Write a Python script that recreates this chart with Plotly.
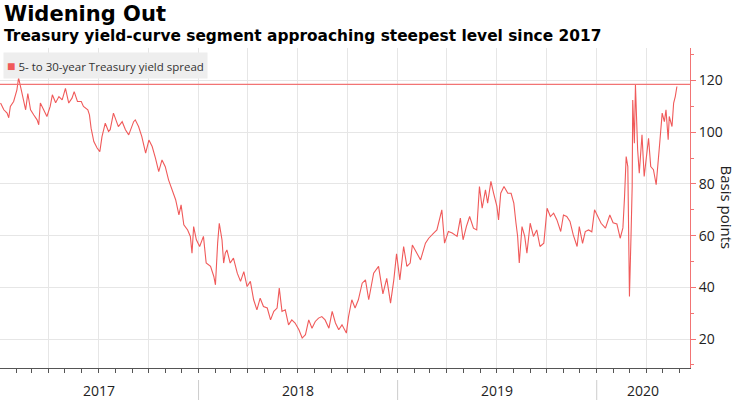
import plotly.graph_objects as go

# 5s30s Treasury spread, basis points
dates = [
    "2017-01-03", "2017-01-09", "2017-01-15", "2017-01-18", "2017-01-21", "2017-01-27",
    "2017-02-02", "2017-02-05", "2017-02-10", "2017-02-15", "2017-02-18", "2017-02-22",
    "2017-02-27", "2017-03-05", "2017-03-11", "2017-03-14", "2017-03-17", "2017-03-23",
    "2017-03-29", "2017-04-04", "2017-04-08", "2017-04-14", "2017-04-20", "2017-04-26",
    "2017-05-02", "2017-05-08", "2017-05-14", "2017-05-18", "2017-05-24", "2017-05-31",
    "2017-06-04", "2017-06-12", "2017-06-15", "2017-06-18", "2017-06-23", "2017-06-29",
    "2017-07-04", "2017-07-08", "2017-07-14", "2017-07-20", "2017-07-23", "2017-07-29",
    "2017-08-07", "2017-08-14", "2017-08-20", "2017-08-26", "2017-09-04", "2017-09-07",
    "2017-09-13", "2017-09-19", "2017-09-26", "2017-10-02", "2017-10-08", "2017-10-14",
    "2017-10-20", "2017-10-26", "2017-11-01", "2017-11-07", "2017-11-13", "2017-11-20",
    "2017-11-26", "2017-11-30", "2017-12-05", "2017-12-12", "2017-12-17", "2017-12-20",
    "2017-12-23", "2017-12-28",
    "2018-01-03", "2018-01-10", "2018-01-15", "2018-01-23", "2018-01-29", "2018-02-01",
    "2018-02-05", "2018-02-08", "2018-02-13", "2018-02-16", "2018-02-19", "2018-02-22",
    "2018-02-28", "2018-03-06", "2018-03-13", "2018-03-19", "2018-03-25", "2018-03-31",
    "2018-04-06", "2018-04-12", "2018-04-18", "2018-04-24", "2018-04-30", "2018-05-07",
    "2018-05-13", "2018-05-19", "2018-05-25", "2018-05-29", "2018-06-03", "2018-06-09",
    "2018-06-15", "2018-06-21", "2018-06-27", "2018-07-04", "2018-07-10", "2018-07-16",
    "2018-07-22", "2018-07-28", "2018-08-03", "2018-08-09", "2018-08-15", "2018-08-21",
    "2018-08-28", "2018-09-03", "2018-09-09", "2018-09-15", "2018-09-21", "2018-09-29",
    "2018-10-03", "2018-10-09", "2018-10-15", "2018-10-21", "2018-10-28", "2018-11-03",
    "2018-11-09", "2018-11-18", "2018-11-27", "2018-12-05", "2018-12-12", "2018-12-19",
    "2018-12-25", "2018-12-30",
    "2019-01-05", "2019-01-12", "2019-01-18", "2019-01-24", "2019-01-28", "2019-02-05",
    "2019-02-12", "2019-02-21", "2019-02-27", "2019-03-08", "2019-03-14", "2019-03-23",
    "2019-03-28", "2019-04-04", "2019-04-11", "2019-04-20", "2019-04-26", "2019-05-01",
    "2019-05-07", "2019-05-13", "2019-05-20", "2019-05-26", "2019-05-31", "2019-06-05",
    "2019-06-11", "2019-06-15", "2019-06-21", "2019-06-26", "2019-07-02", "2019-07-05",
    "2019-07-09", "2019-07-15", "2019-07-22", "2019-07-28", "2019-08-02", "2019-08-06",
    "2019-08-09", "2019-08-12", "2019-08-17", "2019-08-22", "2019-08-26", "2019-09-01",
    "2019-09-07", "2019-09-13", "2019-09-19", "2019-09-26", "2019-10-02", "2019-10-08",
    "2019-10-14", "2019-10-20", "2019-10-27", "2019-11-01", "2019-11-07", "2019-11-13",
    "2019-11-19", "2019-11-26", "2019-11-30", "2019-12-06", "2019-12-11", "2019-12-17",
    "2019-12-23", "2019-12-28",
    "2020-01-03", "2020-01-09", "2020-01-17", "2020-01-25", "2020-01-31", "2020-02-07",
    "2020-02-13", "2020-02-18", "2020-02-21", "2020-02-24", "2020-02-27", "2020-03-01",
    "2020-03-04", "2020-03-06", "2020-03-07", "2020-03-10", "2020-03-12", "2020-03-16",
    "2020-03-19", "2020-03-24", "2020-03-28", "2020-04-01", "2020-04-05", "2020-04-09",
    "2020-04-14", "2020-04-19", "2020-04-23", "2020-04-26", "2020-04-30", "2020-05-04",
    "2020-05-07", "2020-05-11", "2020-05-13", "2020-05-18", "2020-05-21", "2020-05-24",
    "2020-05-27",
]
spread = [
    111.3, 108.7, 107.4, 105.6, 110.0, 111.9,
    116.4, 121.0, 116.4, 111.4, 108.7, 115.0,
    108.7, 106.7, 104.8, 102.9, 111.3, 108.7,
    106.1, 110.0, 114.5, 111.4, 113.8, 112.5,
    117.0, 111.3, 113.2, 115.7, 111.9, 111.9,
    110.0, 108.7, 106.7, 101.6, 96.4, 93.9,
    92.5, 98.3, 103.5, 100.3, 101.0, 107.4,
    102.2, 104.1, 101.0, 99.0, 104.1, 104.8,
    102.2, 98.3, 91.9, 97.0, 94.5, 90.0,
    84.8, 89.3, 86.7, 81.6, 78.4, 73.9,
    68.0, 71.9, 64.2, 62.2, 59.7, 53.2,
    63.5, 58.4,
    55.8, 59.7, 49.4, 48.1, 44.2, 41.0,
    57.1, 64.8, 58.4, 49.4, 53.2, 54.5,
    49.4, 51.3, 45.5, 42.3, 46.1, 40.3,
    42.3, 35.2, 31.3, 35.8, 32.6, 32.0,
    27.4, 30.7, 32.0, 39.7, 30.7, 31.3,
    25.5, 27.4, 26.2, 23.6, 20.4, 21.7,
    27.4, 24.2, 26.8, 28.1, 28.7, 27.4,
    24.2, 30.7, 26.2, 23.6, 25.5, 22.3,
    28.7, 35.2, 32.0, 35.2, 41.6, 42.9,
    35.2, 45.5, 48.1, 37.5, 43.5, 33.9,
    42.9, 53.0,
    42.9, 55.8, 48.1, 49.4, 56.4, 53.2,
    50.6, 57.1, 59.0, 61.0, 62.2, 70.0,
    57.1, 61.6, 61.0, 59.7, 66.8, 58.4,
    63.5, 67.4, 62.9, 62.2, 79.0, 70.6,
    77.7, 72.6, 81.0, 76.4, 71.3, 66.1,
    76.4, 79.0, 76.4, 76.4, 72.6, 64.8,
    59.7, 49.4, 63.5, 59.7, 53.2, 64.8,
    59.7, 62.2, 55.8, 57.1, 70.6, 67.4,
    68.7, 66.1, 61.6, 68.0, 67.4, 65.5,
    60.3, 55.8, 63.5, 57.0, 61.6, 62.2,
    61.5, 70.0,
    67.4, 64.8, 62.9, 68.0, 65.0, 64.5,
    59.0, 63.0, 75.1, 90.6, 86.7, 36.5,
    61.0, 79.0, 112.5, 95.8, 118.3, 93.2,
    84.2, 99.0, 82.9, 90.6, 97.7, 86.7,
    85.5, 79.7, 88.0, 97.1, 107.4, 104.1,
    108.7, 97.1, 106.1, 102.2, 111.3, 113.8,
    117.7,
]
latest_level = 118.5

year_labels = ["2017", "2018", "2019", "2020"]
year_label_dates = ["2017-07-02", "2018-07-02", "2019-07-02", "2020-03-26"]
year_starts = ["2018-01-01", "2019-01-01", "2020-01-01"]

RED = "#f05a5a"
AXIS_RED = "#f27474"
GRID = "#e6e6e6"
FONT = "Open Sans"

fig = go.Figure()
fig.add_trace(go.Scatter(
    x=dates, y=spread, mode="lines",
    line=dict(color=RED, width=1.1),
    name="5- to 30-year Treasury yield spread",
    showlegend=False,
))

# current level marker line
fig.add_hline(y=latest_level, line=dict(color=AXIS_RED, width=1.2))

fig.update_layout(
    width=740, height=416,
    margin=dict(l=0, r=50, t=48, b=48),
    paper_bgcolor="white", plot_bgcolor="white",
    font=dict(family=FONT, color="#222"),
    xaxis=dict(
        range=["2017-01-02", "2020-06-20"],
        tick0="2017-01-01", dtick="M3",
        showgrid=True, gridcolor=GRID,
        showticklabels=False,
        ticks="outside", ticklen=4, tickcolor="#555",
        showline=True, linecolor="#555", linewidth=1,
        zeroline=False,
        minor=dict(dtick="M1", ticks="outside", ticklen=4, tickcolor="#555", showgrid=False),
    ),
    yaxis=dict(
        side="right",
        range=[8.8, 132.6],
        tick0=0, dtick=20,
        showgrid=True, gridcolor=GRID,
        ticks="outside", ticklen=5, tickcolor=AXIS_RED,
        showline=True, linecolor=AXIS_RED, linewidth=1,
        tickfont=dict(size=14, color="#222"),
        zeroline=False,
        minor=dict(dtick=10, ticks="outside", ticklen=3, tickcolor=AXIS_RED),
    ),
)

annotations = [
    dict(text="<b>Widening Out</b>", x=0.003, y=1.106, xref="paper", yref="paper",
         xanchor="left", yanchor="middle", showarrow=False,
         font=dict(family="DejaVu Sans", size=21, color="#000")),
    dict(text="<b>Treasury yield-curve segment approaching steepest level since 2017</b>",
         x=0.003, y=1.0375, xref="paper", yref="paper",
         xanchor="left", yanchor="middle", showarrow=False,
         font=dict(family="DejaVu Sans", size=15.4, color="#000")),
    dict(text=(f"<span style='color:{RED};font-size:14px'>■</span>"
               " 5- to 30-year Treasury yield spread"),
         x=0.004, y=0.9875, xref="paper", yref="paper",
         xanchor="left", yanchor="top", showarrow=False,
         bgcolor="#eeeeee", borderpad=3,
         font=dict(family=FONT, size=11.5, color="#333")),
    dict(text="Basis points", textangle=90,
         x=1.053, y=0.503, xref="paper", yref="paper",
         xanchor="center", yanchor="middle", showarrow=False,
         font=dict(family=FONT, size=15, color="#222")),
]
for label, when in zip(year_labels, year_label_dates):
    annotations.append(dict(text=label, x=when, y=-0.069, xref="x", yref="paper",
                            xanchor="center", yanchor="middle", showarrow=False,
                            font=dict(family=FONT, size=14, color="#222")))
fig.update_layout(annotations=annotations)

for start in year_starts:
    fig.add_shape(type="line", x0=start, x1=start, xref="x", yref="paper",
                  y0=-0.0375, y1=-0.1, line=dict(color="#cccccc", width=1))

# page has a default 8px body margin; drop it so the chart fills the window
fig.write_html("out.html", config={"displayModeBar": False},
               post_script="document.body.style.margin='0';")
